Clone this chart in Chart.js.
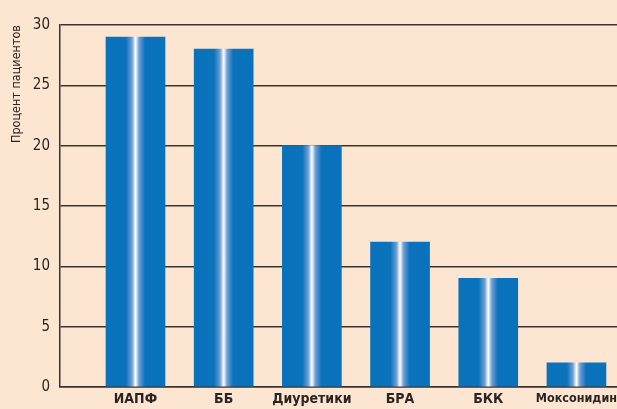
<!DOCTYPE html>
<html>
<head>
<meta charset="utf-8">
<script src="https://cdn.jsdelivr.net/npm/chart.js@4.4.1/dist/chart.umd.min.js"></script>
<style>
  html, body { margin: 0; padding: 0; background: #fde6d1; }
  #wrap { width: 617px; height: 409px; }
</style>
</head>
<body>
<div id="wrap"><canvas id="myChart"></canvas></div>
<script>
// data
const categories = ['ИАПФ', 'ББ', 'Диуретики', 'БРА', 'БКК', 'Моксонидин'];
const values = [29, 28, 20, 12, 9, 2];
const yTicks = [0, 5, 10, 15, 20, 25, 30];

const fontFam = "'Liberation Sans Narrow', 'DejaVu Sans Condensed', sans-serif";

// горизонтальный градиент для каждого столбика
function barFill(c) {
  const chart = c.chart;
  const area = chart.chartArea;
  if (!area || c.type !== 'data') return '#0b71bb';
  const xs = chart.scales.x;
  const cx = xs.getPixelForValue(c.dataIndex);
  const half = 30;
  const g = chart.ctx.createLinearGradient(cx - half, 0, cx + half, 0);
  g.addColorStop(0, '#0a71bb');
  g.addColorStop(0.34, '#0b72bc');
  g.addColorStop(0.44, '#6d9fd4');
  g.addColorStop(0.5, '#ffffff');
  g.addColorStop(0.56, '#6d9fd4');
  g.addColorStop(0.66, '#0b72bc');
  g.addColorStop(1, '#0a71bb');
  return g;
}

const ctx = document.getElementById('myChart');
new Chart(ctx, {
  type: 'bar',
  data: {
    datasets: [{
      data: values.map((v, i) => ({ x: i, y: v })),
      backgroundColor: barFill,
      borderWidth: 0,
      barThickness: 59
    }]
  },
  options: {
    responsive: true,
    maintainAspectRatio: false,
    animation: false,
    layout: { padding: { top: 25, right: 0, bottom: 0, left: 0 } },
    plugins: {
      legend: { display: false },
      tooltip: { enabled: false }
    },
    scales: {
      x: {
        type: 'linear',
        offset: false,
        min: -0.856,
        max: 5.46,
        afterBuildTicks: s => { s.ticks = categories.map((c, i) => ({ value: i })); },
        afterFit: s => { s.height = 22; s.paddingLeft = 0; s.paddingRight = 0; },
        grid: { display: false, drawTicks: false, offset: false },
        border: { display: true, color: '#3a3431', width: 1.5 },
        ticks: {
          autoSkip: false,
          maxRotation: 0,
          padding: 4,
          color: '#2a2522',
          // последняя подпись длинная — чуть мельче, чтобы влезла
          font: c => ({ family: fontFam, size: c.index === categories.length - 1 ? 12.5 : 14, weight: 'bold' }),
          callback: v => categories[v]
        }
      },
      y: {
        min: 0,
        max: 30,
        afterBuildTicks: s => { s.ticks = yTicks.map(v => ({ value: v })); },
        afterFit: s => { s.width = 60; },
        grid: { color: '#3a3431', lineWidth: 1.5, drawTicks: false },
        border: { display: true, color: '#3a3431', width: 1.5 },
        ticks: {
          padding: 10,
          color: '#2a2522',
          font: { family: fontFam, size: 15 }
        },
        title: {
          display: true,
          align: 'end',
          text: 'Процент пациентов',
          color: '#2a2522',
          padding: { top: 9, bottom: 0 },
          font: { family: fontFam, size: 12.5 }
        }
      }
    }
  }
});
</script>
</body>
</html>
